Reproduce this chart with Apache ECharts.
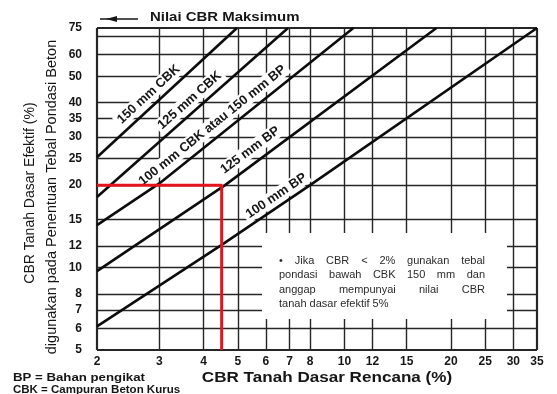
<!DOCTYPE html>
<html>
<head>
<meta charset="utf-8">
<script src="https://cdn.jsdelivr.net/npm/echarts@6/dist/echarts.min.js"></script>
<style>
  html, body { margin: 0; padding: 0; background: #fff; }
  #chart { width: 557px; height: 394px; }
</style>
</head>
<body>
<div id="chart"></div>
<script>
// Axis ticks (log scales)
const xTicks = [2, 3, 4, 5, 6, 7, 8, 10, 12, 15, 20, 25, 30, 35];
const yTicks = [5, 6, 7, 8, 10, 12, 15, 20, 25, 30, 35, 40, 50, 60, 75];
const yGridExtra = [70];

// Design curves: effective subgrade CBR vs design subgrade CBR
const curveNames = ['150 mm CBK', '125 mm CBK', '100 mm CBK atau 150 mm BP', '125 mm BP', '100 mm BP'];
const curveX = [
  [2, 4.97],
  [2, 6.93],
  [2, 3, 10.6],
  [2, 4.6, 18.2],
  [2, 4.5, 8, 35]
];
const curveY = [
  [25.3, 75],
  [18.1, 75],
  [14.3, 20.3, 75],
  [9.7, 20, 75],
  [6.1, 12.1, 20, 75]
];

// Worked example
const designCbr = 4.5;
const effectiveCbr = 20;

const FONT = "'Liberation Sans', Arial, sans-serif";
const INK = '#161616';

const chart = echarts.init(document.getElementById('chart'), null, { renderer: 'canvas' });

const tickLabel = (v, dist) => ({
  show: true, position: 'start', distance: dist, formatter: String(v),
  color: INK, fontSize: 12, fontWeight: 'bold', fontFamily: FONT
});

const gridLines = [];
xTicks.forEach((v, i) => {
  const edge = i === 0 || i === xTicks.length - 1;
  gridLines.push({ xAxis: v, lineStyle: { width: edge ? 2.2 : 1.4 }, label: tickLabel(v, 6) });
});
yTicks.forEach((v, i) => {
  const edge = i === 0 || i === yTicks.length - 1;
  gridLines.push({ yAxis: v, lineStyle: { width: edge ? 2.2 : 1.3 }, label: tickLabel(v, 15) });
});
yGridExtra.forEach(v => gridLines.push({ yAxis: v, label: { show: false } }));

const hiddenAxis = (min, max) => ({
  type: 'log', logBase: 10, min, max,
  axisLine: { show: false }, axisTick: { show: false },
  axisLabel: { show: false }, splitLine: { show: false }
});

chart.setOption({
  animation: false,
  backgroundColor: '#fff',
  grid: { left: 97, right: 20, top: 28, bottom: 44 },
  xAxis: hiddenAxis(xTicks[0], xTicks[xTicks.length - 1]),
  yAxis: hiddenAxis(yTicks[0], yTicks[yTicks.length - 1]),
  series: [
    {
      name: 'grid', type: 'line', data: [], silent: true, z: 1,
      markLine: {
        z: 1, silent: true, animation: false, symbol: ['none', 'none'],
        lineStyle: { color: '#262626', type: 'solid', width: 1.3 },
        label: { show: false },
        emphasis: { disabled: true },
        data: gridLines
      }
    },
    ...curveNames.map((name, i) => ({
      name, type: 'line', z: 5, silent: true,
      data: curveX[i].map((x, j) => [x, curveY[i][j]]),
      symbol: 'none', showSymbol: false,
      lineStyle: { color: '#0d0d0d', width: 2.6 }
    })),
    {
      name: 'contoh', type: 'line', z: 6, silent: true,
      data: [[xTicks[0], effectiveCbr], [designCbr, effectiveCbr], [designCbr, yTicks[0]]],
      symbol: 'none', showSymbol: false,
      lineStyle: { color: '#e5141c', width: 3 }
    }
  ]
});

// ---- Annotations drawn on top of the plot ----
const px = (x, y) => chart.convertToPixel({ xAxisIndex: 0, yAxisIndex: 0 }, [x, y]);

// Where each curve's caption sits (data x along the curve) and its gap from the curve
const captionAt = [2.94, 3.83, 4.45, 5.7, 6.66];
const captionGap = [11, 11, 12, 13, 10];

function curveCaption(i) {
  const pts = curveX[i].map((x, j) => px(x, curveY[i][j]));
  const tx = px(captionAt[i], curveY[i][0])[0];
  let k = 0;
  while (k < pts.length - 2 && pts[k + 1][0] < tx) k++;
  const [x0, y0] = pts[k], [x1, y1] = pts[k + 1];
  const t = (tx - x0) / (x1 - x0);
  const cx = x0 + t * (x1 - x0), cy = y0 + t * (y1 - y0);
  const a = Math.atan2(y1 - y0, x1 - x0);
  const nx = Math.sin(a), ny = -Math.cos(a);
  return {
    type: 'text', z: 3, silent: true,
    x: cx + captionGap[i] * nx, y: cy + captionGap[i] * ny,
    rotation: -a,
    style: {
      text: curveNames[i], align: 'center', verticalAlign: 'middle',
      font: 'bold 13px ' + FONT, fill: INK,
      backgroundColor: '#fff', padding: [1, 3]
    }
  };
}

// Justified note text
const measure = document.createElement('canvas').getContext('2d');
const noteFont = '11px ' + FONT;
measure.font = noteFont;
const noteLines = [
  '\u2022 Jika CBR < 2% gunakan tebal',
  'pondasi bawah CBK 150 mm dan',
  'anggap mempunyai nilai CBR',
  'tanah dasar efektif 5%'
];
const noteLeft = 279, noteRight = 485, noteTop = 261, noteStep = 14.3;
const noteEls = [];
noteLines.forEach((line, li) => {
  const words = line.split(' ');
  const y = noteTop + li * noteStep;
  const justify = li < noteLines.length - 1;
  const widths = words.map(w => measure.measureText(w).width);
  const total = widths.reduce((s, w) => s + w, 0);
  const gap = justify ? (noteRight - noteLeft - total) / (words.length - 1) : measure.measureText(' ').width;
  let x = noteLeft;
  words.forEach((w, wi) => {
    noteEls.push({
      type: 'text', z: 10, silent: true, x, y,
      style: { text: w, font: noteFont, fill: '#2b2b2b', align: 'left', verticalAlign: 'middle' }
    });
    x += widths[wi] + gap;
  });
});

const elements = [
  // clear panel behind the note
  { type: 'rect', z: 3, silent: true, shape: { x: 262, y: 233, width: 245, height: 86 }, style: { fill: '#fff' } },
  ...noteEls,
  ...curveNames.map((_, i) => curveCaption(i)),
  // "maximum CBR" arrow and caption
  { type: 'line', z: 10, silent: true, shape: { x1: 100, y1: 19, x2: 138, y2: 19 }, style: { stroke: INK, lineWidth: 1.6 } },
  { type: 'polygon', z: 10, silent: true, shape: { points: [[106, 19], [117, 16], [117, 22]] }, style: { fill: INK } },
  { type: 'text', z: 10, silent: true, x: 150, y: 17, scaleX: 1.15,
    style: { text: 'Nilai CBR Maksimum', font: 'bold 13px ' + FONT, fill: INK, align: 'left', verticalAlign: 'middle' } },
  // axis titles
  { type: 'text', z: 10, silent: true, x: 30, y: 193, rotation: Math.PI / 2,
    style: { text: 'CBR Tanah Dasar Efektif (%)', font: '14px ' + FONT, fill: INK, align: 'center', verticalAlign: 'middle' } },
  { type: 'text', z: 10, silent: true, x: 52, y: 197, rotation: Math.PI / 2,
    style: { text: 'digunakan pada Penentuan Tebal Pondasi Beton', font: '14.5px ' + FONT, fill: INK, align: 'center', verticalAlign: 'middle' } },
  { type: 'text', z: 10, silent: true, x: 327, y: 378, scaleX: 1.22,
    style: { text: 'CBR Tanah Dasar Rencana (%)', font: 'bold 14px ' + FONT, fill: INK, align: 'center', verticalAlign: 'middle' } },
  // abbreviations
  { type: 'text', z: 10, silent: true, x: 13, y: 378, scaleX: 1.15,
    style: { text: 'BP = Bahan pengikat', font: 'bold 11.5px ' + FONT, fill: INK, align: 'left', verticalAlign: 'middle' } },
  { type: 'text', z: 10, silent: true, x: 13, y: 390, scaleX: 1.15,
    style: { text: 'CBK = Campuran Beton Kurus', font: 'bold 10px ' + FONT, fill: INK, align: 'left', verticalAlign: 'middle' } }
];

chart.setOption({ graphic: { elements } });
</script>
</body>
</html>
